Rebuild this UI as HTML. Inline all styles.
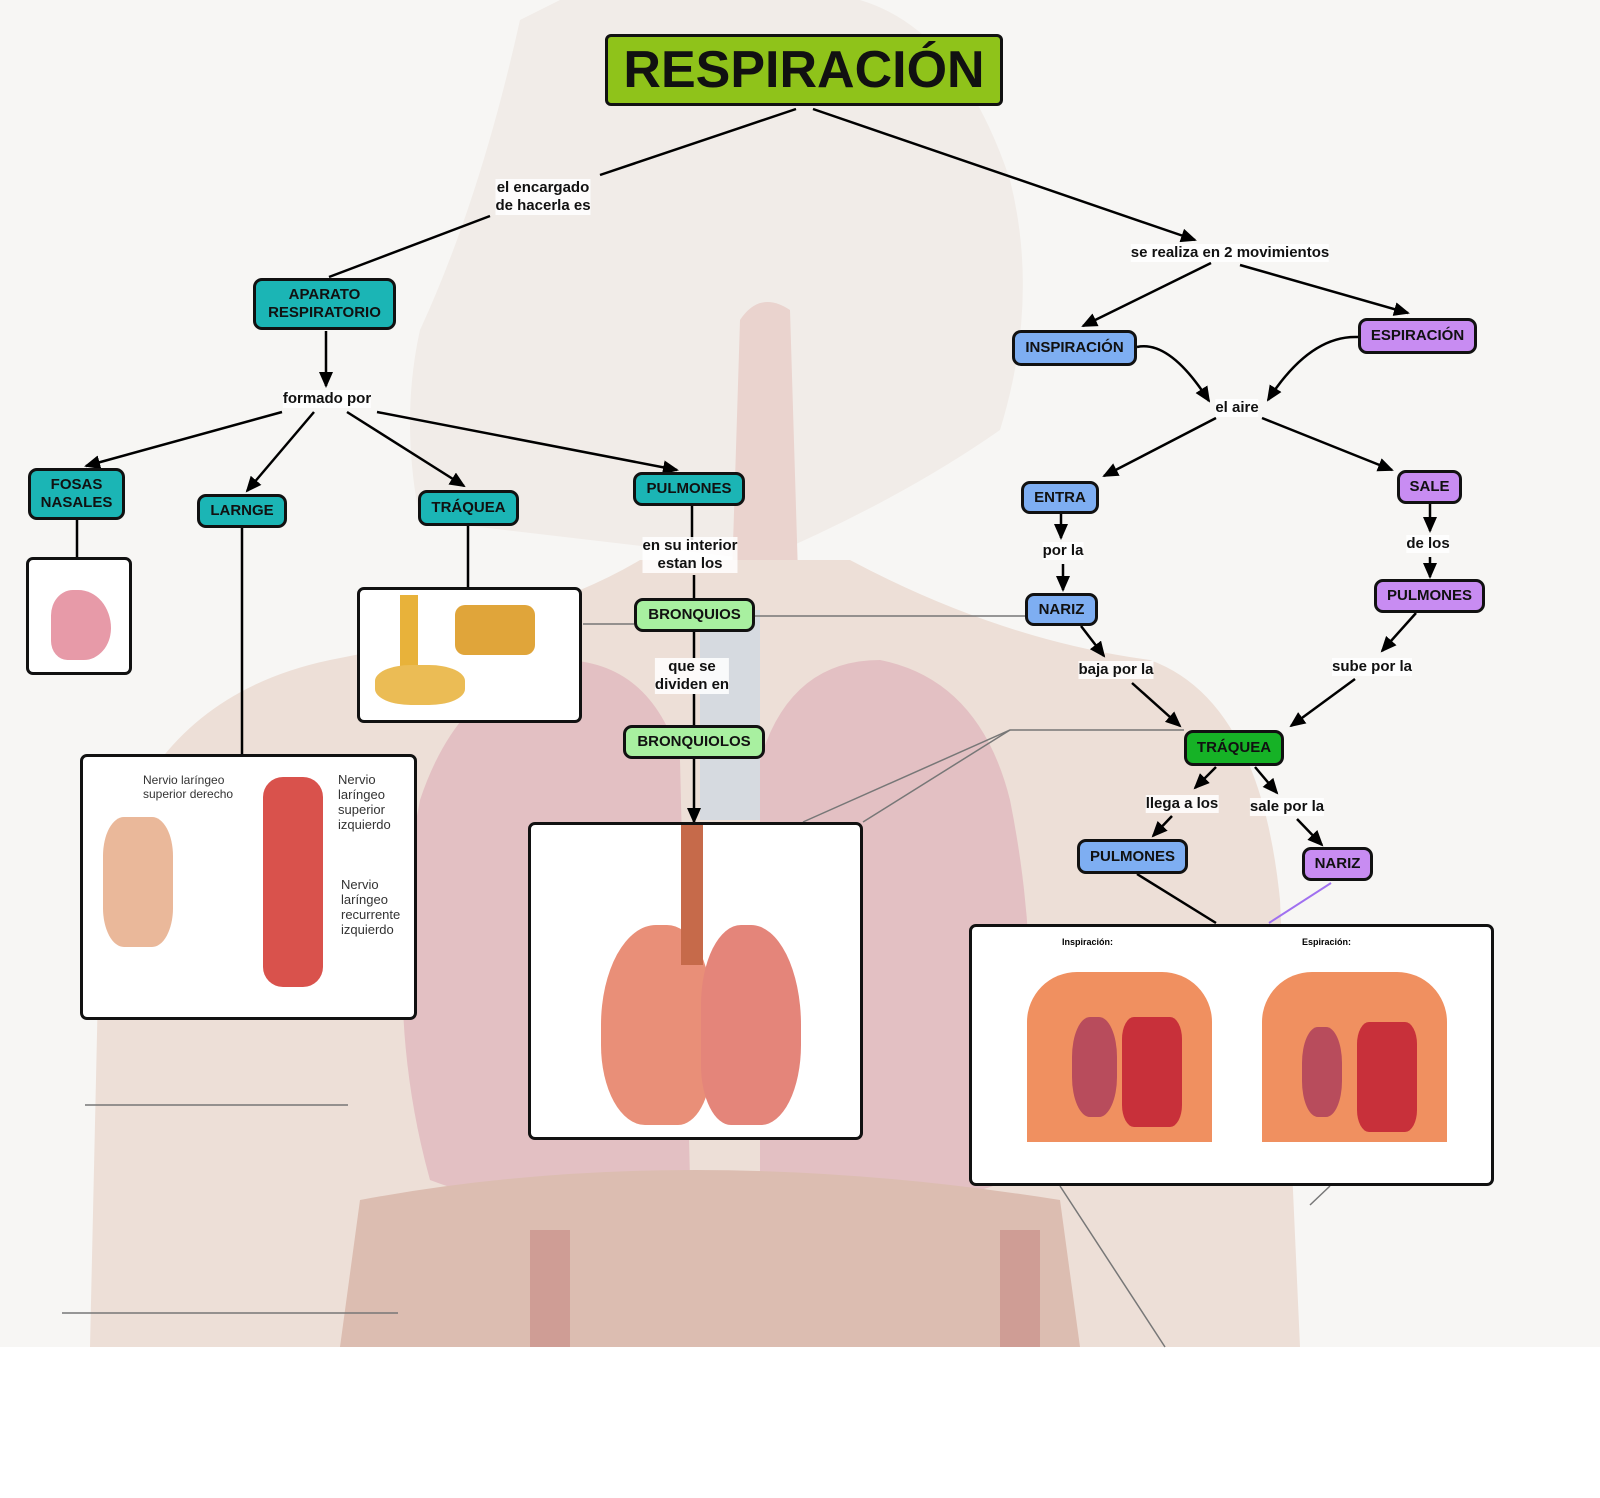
<!DOCTYPE html>
<html><head><meta charset="utf-8"><style>
body{margin:0;width:1600px;height:1498px;position:relative;background:#f7f6f4;font-family:"Liberation Sans",sans-serif;overflow:hidden}
.b{position:absolute;box-sizing:border-box;border:3px solid #111;border-radius:9px;display:flex;align-items:center;justify-content:center;text-align:center;font-weight:bold;font-size:15px;color:#111;line-height:18px}
.t{background:#1bb5b5}.g{background:#a8f0a0}.bl{background:#7eaef2}.p{background:#c88cf2}.dg{background:#16b226}
.l{position:absolute;font-weight:bold;font-size:15px;color:#111;text-align:center;line-height:18px;background:rgba(255,255,255,.85);transform:translate(-50%,-50%);white-space:nowrap}
.img{position:absolute;box-sizing:border-box;border:3px solid #111;border-radius:7px;background:#fff;overflow:hidden}
svg{position:absolute;left:0;top:0}
</style></head><body>
<svg width="1600" height="1498">
<rect x="0" y="1347" width="1600" height="151" fill="#fff"/>
<path d="M520 20 Q480 200 420 330 Q400 420 420 520 L760 560 Q900 500 1000 430 Q1040 300 1010 180 Q960 30 860 0 L560 0 Z" fill="#f1ece8"/>
<path d="M740 320 Q760 290 790 310 L800 640 L730 640 Z" fill="#ead3ce"/>
<path d="M90 1347 L100 900 Q140 700 330 660 Q540 620 640 560 L850 560 Q1000 640 1150 660 Q1260 700 1280 900 L1300 1347 Z" fill="#eddfd7"/>
<path d="M420 800 Q460 680 560 660 Q650 660 680 760 L690 1180 Q560 1230 430 1180 Q380 1000 420 800 Z" fill="#e3c0c3"/>
<path d="M760 760 Q790 660 880 660 Q980 680 1010 800 Q1050 1000 1010 1180 Q880 1230 760 1180 Z" fill="#e3c0c3"/>
<path d="M360 1200 Q680 1140 1060 1200 L1080 1347 L340 1347 Z" fill="#dcbdb1"/>
<rect x="700" y="610" width="60" height="210" fill="#d6dae0"/>
<rect x="530" y="1230" width="40" height="117" fill="#cf9d95"/><rect x="1000" y="1230" width="40" height="117" fill="#cf9d95"/>
<g stroke="#777" stroke-width="1.5" fill="none">
<line x1="85" y1="1105" x2="348" y2="1105"/><line x1="62" y1="1313" x2="398" y2="1313"/>
<line x1="583" y1="624" x2="634" y2="624"/><line x1="755" y1="616" x2="1025" y2="616"/>
<polyline points="1184,730 1010,730 803,822"/><line x1="1010" y1="730" x2="863" y2="822"/>
<line x1="1060" y1="1186" x2="1165" y2="1347"/><line x1="1330" y1="1186" x2="1310" y2="1205"/>
</g>
<defs><marker id="c" markerWidth="16" markerHeight="14" refX="14" refY="7" orient="auto" markerUnits="userSpaceOnUse"><path d="M0 0L16 7L0 14Z" fill="#000"/></marker></defs>
<g stroke="#000" stroke-width="2.5" fill="none">
<line x1="796" y1="109" x2="600" y2="175"/><line x1="490" y1="216" x2="329" y2="277"/>
<line x1="813" y1="109" x2="1195" y2="240" marker-end="url(#c)"/>
<line x1="1211" y1="263" x2="1083" y2="326" marker-end="url(#c)"/>
<line x1="1240" y1="265" x2="1408" y2="313" marker-end="url(#c)"/>
<path d="M1137 347 Q1170 340 1209 401" marker-end="url(#c)"/>
<path d="M1358 337 Q1310 335 1268 400" marker-end="url(#c)"/>
<line x1="1216" y1="418" x2="1104" y2="476" marker-end="url(#c)"/>
<line x1="1262" y1="418" x2="1392" y2="470" marker-end="url(#c)"/>
<line x1="1061" y1="514" x2="1061" y2="538" marker-end="url(#c)"/>
<line x1="1063" y1="564" x2="1063" y2="590" marker-end="url(#c)"/>
<line x1="1430" y1="504" x2="1430" y2="531" marker-end="url(#c)"/>
<line x1="1430" y1="557" x2="1430" y2="577" marker-end="url(#c)"/>
<line x1="1081" y1="626" x2="1104" y2="656" marker-end="url(#c)"/>
<line x1="1132" y1="683" x2="1180" y2="726" marker-end="url(#c)"/>
<line x1="1416" y1="613" x2="1382" y2="651" marker-end="url(#c)"/>
<line x1="1355" y1="679" x2="1291" y2="726" marker-end="url(#c)"/>
<line x1="1216" y1="767" x2="1195" y2="788" marker-end="url(#c)"/>
<line x1="1255" y1="767" x2="1277" y2="793" marker-end="url(#c)"/>
<line x1="1172" y1="816" x2="1153" y2="836" marker-end="url(#c)"/>
<line x1="1297" y1="819" x2="1322" y2="845" marker-end="url(#c)"/>
<line x1="1137" y1="874" x2="1216" y2="923"/>
<line x1="326" y1="331" x2="326" y2="386" marker-end="url(#c)"/>
<line x1="282" y1="412" x2="86" y2="466" marker-end="url(#c)"/>
<line x1="314" y1="412" x2="247" y2="491" marker-end="url(#c)"/>
<line x1="347" y1="412" x2="464" y2="486" marker-end="url(#c)"/>
<line x1="377" y1="412" x2="677" y2="470" marker-end="url(#c)"/>
<line x1="77" y1="520" x2="77" y2="557"/><line x1="242" y1="527" x2="242" y2="754"/><line x1="468" y1="526" x2="468" y2="587"/>
<line x1="692" y1="506" x2="692" y2="540"/><line x1="694" y1="575" x2="694" y2="598"/><line x1="694" y1="631" x2="694" y2="658"/><line x1="694" y1="694" x2="694" y2="725"/>
<line x1="694" y1="759" x2="694" y2="822" marker-end="url(#c)"/>
</g>
<line x1="1331" y1="883" x2="1269" y2="923" stroke="#a070f0" stroke-width="2"/>
</svg>
<div class="b" style="left:605px;top:34px;width:398px;height:72px;background:#8fc31a;font-size:52px;border-radius:6px">RESPIRACIÓN</div>
<div class="b t" style="left:253px;top:278px;width:143px;height:52px">APARATO<br>RESPIRATORIO</div>
<div class="b t" style="left:28px;top:468px;width:97px;height:52px">FOSAS<br>NASALES</div>
<div class="b t" style="left:197px;top:494px;width:90px;height:34px">LARNGE</div>
<div class="b t" style="left:418px;top:490px;width:101px;height:36px">TRÁQUEA</div>
<div class="b t" style="left:633px;top:472px;width:112px;height:34px">PULMONES</div>
<div class="b g" style="left:634px;top:598px;width:121px;height:34px">BRONQUIOS</div>
<div class="b g" style="left:623px;top:725px;width:142px;height:34px">BRONQUIOLOS</div>
<div class="b bl" style="left:1012px;top:330px;width:125px;height:36px">INSPIRACIÓN</div>
<div class="b p" style="left:1358px;top:318px;width:119px;height:36px">ESPIRACIÓN</div>
<div class="b bl" style="left:1021px;top:481px;width:78px;height:33px">ENTRA</div>
<div class="b p" style="left:1397px;top:470px;width:65px;height:34px">SALE</div>
<div class="b bl" style="left:1025px;top:593px;width:73px;height:33px">NARIZ</div>
<div class="b p" style="left:1374px;top:579px;width:111px;height:34px">PULMONES</div>
<div class="b dg" style="left:1184px;top:730px;width:100px;height:36px">TRÁQUEA</div>
<div class="b bl" style="left:1077px;top:839px;width:111px;height:35px">PULMONES</div>
<div class="b p" style="left:1302px;top:847px;width:71px;height:34px">NARIZ</div>
<div class="l" style="left:543px;top:197px">el encargado<br>de hacerla es</div>
<div class="l" style="left:1230px;top:253px">se realiza en 2 movimientos</div>
<div class="l" style="left:327px;top:399px">formado por</div>
<div class="l" style="left:690px;top:555px">en su interior<br>estan los</div>
<div class="l" style="left:692px;top:676px">que se<br>dividen en</div>
<div class="l" style="left:1237px;top:408px">el aire</div>
<div class="l" style="left:1063px;top:551px">por la</div>
<div class="l" style="left:1428px;top:544px">de los</div>
<div class="l" style="left:1116px;top:670px">baja por la</div>
<div class="l" style="left:1372px;top:667px">sube por la</div>
<div class="l" style="left:1182px;top:804px">llega a los</div>
<div class="l" style="left:1287px;top:807px">sale por la</div>
<div class="img" style="left:26px;top:557px;width:106px;height:118px"><div style="position:absolute;left:22px;top:30px;width:60px;height:70px;background:#e79aa8;border-radius:40% 60% 50% 30%"></div></div>
<div class="img" style="left:357px;top:587px;width:225px;height:136px"><div style="position:absolute;left:40px;top:5px;width:18px;height:80px;background:#e8b23a"></div><div style="position:absolute;left:95px;top:15px;width:80px;height:50px;background:#e0a53a;border-radius:10px"></div><div style="position:absolute;left:15px;top:75px;width:90px;height:40px;background:#ebbc55;border-radius:40%"></div></div>
<div class="img" style="left:80px;top:754px;width:337px;height:266px"><div style="position:absolute;left:20px;top:60px;width:70px;height:130px;background:#eab89a;border-radius:30%"></div><div style="position:absolute;left:180px;top:20px;width:60px;height:210px;background:#d9524c;border-radius:20px"></div><div style="position:absolute;left:60px;top:16px;font-size:12px;color:#333;line-height:14px">Nervio laríngeo<br>superior derecho</div><div style="position:absolute;left:255px;top:15px;font-size:13px;color:#333;line-height:15px">Nervio<br>laríngeo<br>superior<br>izquierdo</div><div style="position:absolute;left:258px;top:120px;font-size:13px;color:#333;line-height:15px">Nervio<br>laríngeo<br>recurrente<br>izquierdo</div></div>
<div class="img" style="left:528px;top:822px;width:335px;height:318px"><div style="position:absolute;left:70px;top:100px;width:110px;height:200px;background:#e98f78;border-radius:50% 40% 30% 40%"></div><div style="position:absolute;left:170px;top:100px;width:100px;height:200px;background:#e4857a;border-radius:40% 50% 40% 30%"></div><div style="position:absolute;left:150px;top:0;width:22px;height:140px;background:#c66a4a"></div></div>
<div class="img" style="left:969px;top:924px;width:525px;height:262px"><div style="position:absolute;left:55px;top:45px;width:185px;height:170px;background:#f09060;border-radius:50px 50px 0 0"></div><div style="position:absolute;left:290px;top:45px;width:185px;height:170px;background:#f09060;border-radius:50px 50px 0 0"></div><div style="position:absolute;left:100px;top:90px;width:45px;height:100px;background:#b84c5c;border-radius:40%"></div><div style="position:absolute;left:150px;top:90px;width:60px;height:110px;background:#c8303a;border-radius:20%"></div><div style="position:absolute;left:330px;top:100px;width:40px;height:90px;background:#b84c5c;border-radius:40%"></div><div style="position:absolute;left:385px;top:95px;width:60px;height:110px;background:#c8303a;border-radius:20%"></div><div style="position:absolute;left:90px;top:10px;font-size:9px;font-weight:bold">Inspiración:</div><div style="position:absolute;left:330px;top:10px;font-size:9px;font-weight:bold">Espiración:</div></div>
</body></html>
